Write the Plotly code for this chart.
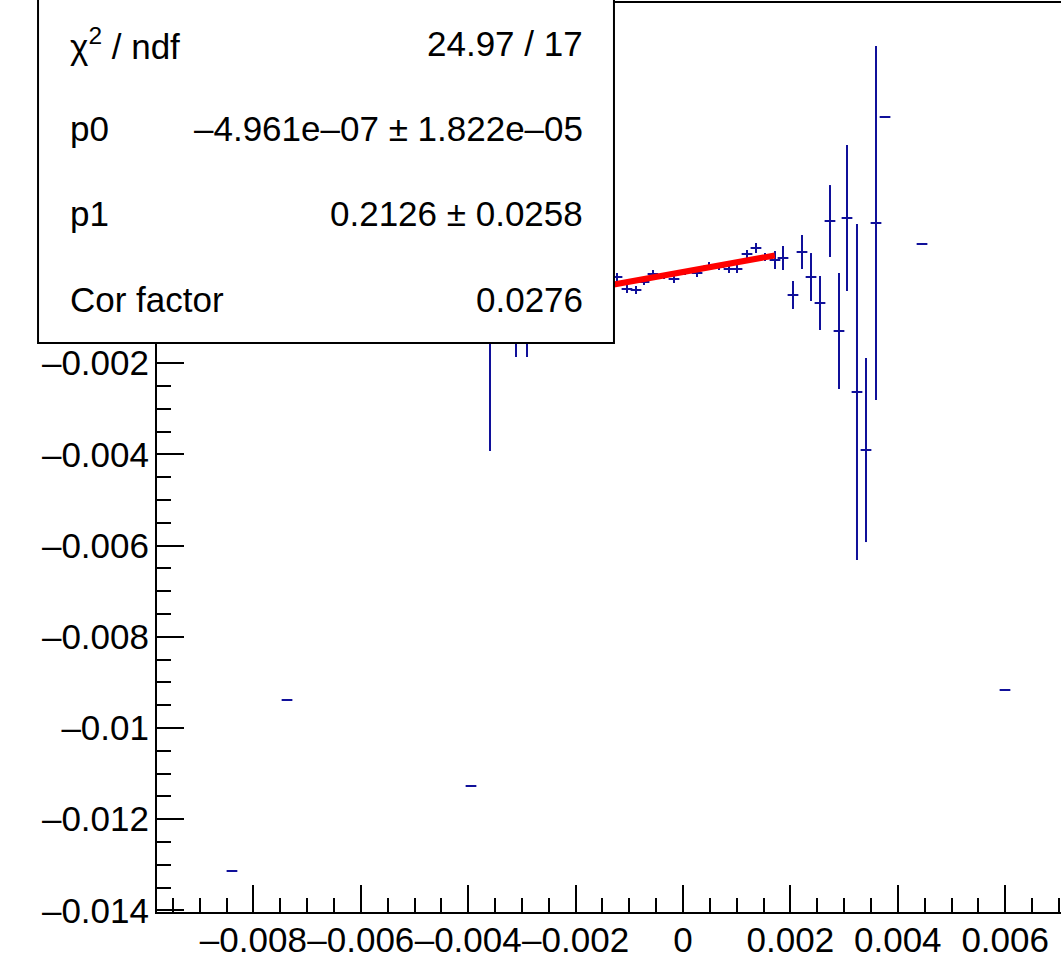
import plotly.graph_objects as go

# profile points (x, mean, error on mean)
x_vals = [-0.003594, -0.003110, -0.002905,
          -0.001229, -0.001043, -0.000875, -0.000726, -0.000559, -0.000354,
          -0.000168, 0.0000372, 0.000261, 0.000484, 0.000670, 0.000857,
          0.001006, 0.001192, 0.001359, 0.001527, 0.001713, 0.001862,
          0.002048, 0.002216, 0.002384, 0.002551, 0.002737, 0.002905,
          0.003054, 0.003240, 0.003408, 0.003594, 0.003762, 0.004451,
          -0.008399, -0.007374, -0.003948, 0.005996]
y_vals = [-0.000614, -0.000614, -0.000614,
          -0.000110, -0.000373, -0.000395, -0.000219, -0.0000439, -0.0000877,
          -0.000154, 0.0, -0.0000219, 0.000132, 0.000110, 0.0000658,
          0.0000658, 0.000395, 0.000526, 0.000329, 0.000263, 0.000307,
          -0.000504, 0.000439, -0.000110, -0.000680, 0.001118, -0.001294,
          0.001184, -0.002632, -0.003904, 0.001075, 0.003399, 0.000614,
          -0.013136, -0.009386, -0.011272, -0.009167]
y_errs = [0.003311, 0.00125, 0.00125,
          0.0000877, 0.0000877, 0.0000877, 0.0000658, 0.0000877, 0.0000658,
          0.0000877, 0.0000658, 0.0000877, 0.0000877, 0.0000658, 0.0000877,
          0.0000877, 0.0000877, 0.000110, 0.0000877, 0.000197, 0.000263,
          0.000307, 0.000373, 0.000526, 0.000592, 0.000789, 0.001272,
          0.001601, 0.003684, 0.002018, 0.003882, 0.0, 0.0,
          0.0, 0.0, 0.0, 0.0]
half_bin = 0.0001

# fit result shown in the stats box
p0 = -4.961e-07
p1 = 0.2126
fit_range = [-0.0025, 0.00171]
fit_y = [p0 + p1 * v for v in fit_range]

stat_names = ["χ<sup>2</sup> / ndf", "p0", "p1", "Cor factor"]
stat_values = ["24.97 / 17", "–4.961e–07 ± 1.822e–05", "0.2126 ± 0.0258", "0.0276"]

x_ticks = [-0.008, -0.006, -0.004, -0.002, 0, 0.002, 0.004, 0.006]
x_ticktext = ["–0.008", "–0.006", "–0.004", "–0.002", "0", "0.002", "0.004", "0.006"]
# labels for 0 and above sit under the stats box, so only the visible ones
y_ticks = [-0.014, -0.012, -0.01, -0.008, -0.006, -0.004, -0.002]
y_ticktext = ["–0.014", "–0.012", "–0.01", "–0.008", "–0.006", "–0.004", "–0.002"]

FONT = "Liberation Sans, Arial, Helvetica, sans-serif"
blue = "#10109a"

fig = go.Figure()
fig.add_trace(go.Scatter(
    x=x_vals, y=y_vals, mode="markers",
    marker=dict(size=1, color=blue),
    error_x=dict(type="constant", value=half_bin, color=blue, thickness=2, width=0),
    error_y=dict(type="data", array=y_errs, color=blue, thickness=2, width=0),
    showlegend=False,
))
fig.add_trace(go.Scatter(
    x=fit_range, y=fit_y, mode="lines",
    line=dict(color="#ff0000", width=6), showlegend=False,
))

axis_common = dict(
    showgrid=False, zeroline=False, showline=True, linecolor="black", linewidth=2,
    ticks="inside", ticklen=27, tickwidth=2, tickcolor="black",
    tickfont=dict(family=FONT, size=35, color="black"),
    tickmode="array", automargin=False, tickangle=0,
)
fig.update_xaxes(
    range=[-0.009795, 0.007039], tickvals=x_ticks, ticktext=x_ticktext,
    ticklabelstandoff=-4,
    minor=dict(ticks="inside", ticklen=14, tickwidth=2, tickcolor="black", dtick=0.0005),
    **axis_common,
)
fig.update_yaxes(
    range=[-0.014035, 0.005921], tickvals=y_ticks, ticktext=y_ticktext,
    ticklabelstandoff=-1,
    minor=dict(ticks="inside", ticklen=14, tickwidth=2, tickcolor="black", dtick=0.0005),
    **axis_common,
)

# frame top line
fig.add_shape(type="line", xref="paper", yref="paper", x0=0, x1=1, y0=1, y1=1,
              line=dict(color="black", width=2))

# stats box (drawn over the data like ROOT does)
box_x0, box_x1, box_y0, box_y1 = -0.1316, 0.5055, 0.6253, 1.004
fig.add_shape(type="rect", xref="paper", yref="paper",
              x0=box_x0, x1=box_x1, y0=box_y0, y1=box_y1,
              fillcolor="white", line=dict(color="black", width=2), layer="above")

row_y = [0.9542, 0.8608, 0.7674, 0.6729]
for name, val, ry in zip(stat_names, stat_values, row_y):
    fig.add_annotation(x=-0.0985, y=ry, xref="paper", yref="paper", text=name,
                       showarrow=False, xanchor="left", yanchor="middle",
                       font=dict(family=FONT, size=35, color="black"))
    fig.add_annotation(x=0.4735, y=ry, xref="paper", yref="paper", text=val,
                       showarrow=False, xanchor="right", yanchor="middle",
                       font=dict(family=FONT, size=35, color="black"))

fig.update_layout(
    width=1061, height=970,
    margin=dict(l=157, r=0, t=2, b=58),
    plot_bgcolor="white", paper_bgcolor="white",
    font=dict(family=FONT, size=35, color="black"),
)

# drop the default page margin so the canvas sits at the window corner
fig.write_html("out.html", config={"displayModeBar": False},
               post_script="document.body.style.margin='0';")
